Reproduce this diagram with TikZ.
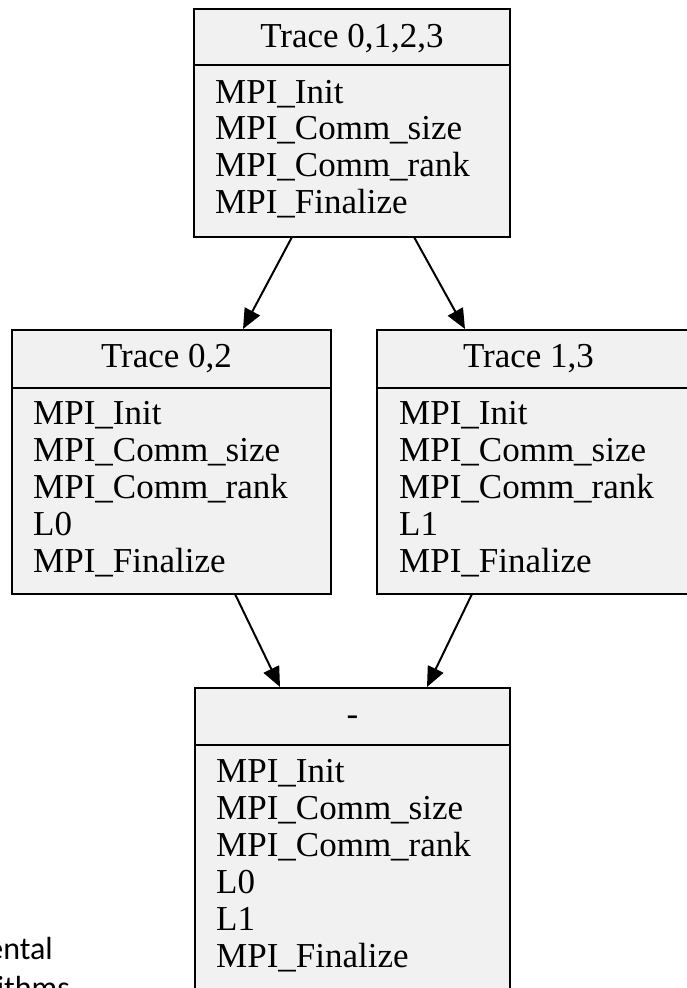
\documentclass[tikz,border=0pt]{standalone}
\usepackage{fontspec}
\setmainfont{Liberation Serif}
\newfontfamily\notefont{Carlito}
\usetikzlibrary{arrows.meta,calc}
\definecolor{boxfill}{HTML}{F1F1F1}
\tikzset{
  recbox/.style={draw=black, fill=boxfill, line width=2.4pt, rectangle,
    inner sep=0pt, outer sep=0pt, anchor=north west},
  divider/.style={draw=black, line width=2.4pt},
  headtext/.style={font=\fontsize{35}{37}\selectfont, inner sep=0pt, anchor=base},
  rowtext/.style={font=\fontsize{35}{37}\selectfont, inner sep=0pt, anchor=base west},
  notetext/.style={font={\fontsize{32}{38}\selectfont\notefont}, inner sep=0pt, anchor=base east},
  flow/.style={draw=black, line width=2pt, -{Triangle[length=20pt,width=17pt]}}
}
\begin{document}
\begin{tikzpicture}[x=1pt,y=-1pt]
\useasboundingbox (0,0) rectangle (687,988);
\clip (0,0) rectangle (687,988);

% record boxes
\node[recbox, minimum width=316pt, minimum height=228pt] (top) at (194,9) {};
\node[recbox, minimum width=319pt, minimum height=264pt] (left) at (12,330) {};
\node[recbox, minimum width=319pt, minimum height=264pt] (right) at (377,330) {};
\node[recbox, minimum width=315pt, minimum height=330pt] (bottom) at (195,688) {};

% header separators
\draw[divider] ($(top.north west)+(0,56)$) -- ($(top.north east)+(0,56)$);
\draw[divider] ($(left.north west)+(0,58)$) -- ($(left.north east)+(0,58)$);
\draw[divider] ($(right.north west)+(0,58)$) -- ($(right.north east)+(0,58)$);
\draw[divider] ($(bottom.north west)+(0,57)$) -- ($(bottom.north east)+(0,57)$);

% headers
\node[headtext] (top-h) at ($(top.north)+(0,38)$) {Trace 0,1,2,3};
\node[headtext] (left-h) at ($(left.north)+(-5,37)$) {Trace 0,2};
\node[headtext] (right-h) at ($(right.north)+(-8,37)$) {Trace 1,3};
\node[headtext] (bottom-h) at ($(bottom.north)+(0,37)$) {-};

% record fields
\foreach \t [count=\i from 0] in {MPI\_Init, MPI\_Comm\_size, MPI\_Comm\_rank, MPI\_Finalize}
  \node[rowtext] (top-\i) at ($(top.north west)+(21,94+36.8*\i)$) {\t};
\foreach \t [count=\i from 0] in {MPI\_Init, MPI\_Comm\_size, MPI\_Comm\_rank, L0, MPI\_Finalize}
  \node[rowtext] (left-\i) at ($(left.north west)+(21,94+37*\i)$) {\t};
\foreach \t [count=\i from 0] in {MPI\_Init, MPI\_Comm\_size, MPI\_Comm\_rank, L1, MPI\_Finalize}
  \node[rowtext] (right-\i) at ($(right.north west)+(22,94+37*\i)$) {\t};
\foreach \t [count=\i from 0] in {MPI\_Init, MPI\_Comm\_size, MPI\_Comm\_rank, L0, L1, MPI\_Finalize}
  \node[rowtext] (bottom-\i) at ($(bottom.north west)+(21,94+37*\i)$) {\t};

% edges
\draw[flow] ($(top.south west)+(98,0)$) -- ($(left.north west)+(231,-1)$);
\draw[flow] ($(top.south west)+(220,0)$) -- ($(right.north west)+(88,-1)$);
\draw[flow] ($(left.south west)+(223,0)$) -- ($(bottom.north west)+(85,-1)$);
\draw[flow] ($(right.south west)+(95,0)$) -- ($(bottom.north west)+(232,-1)$);

% page text at the left margin
\node[notetext] (note-a) at (53,959) {ental};
\node[notetext] (note-b) at (70,998) {ithms};
\end{tikzpicture}
\end{document}
